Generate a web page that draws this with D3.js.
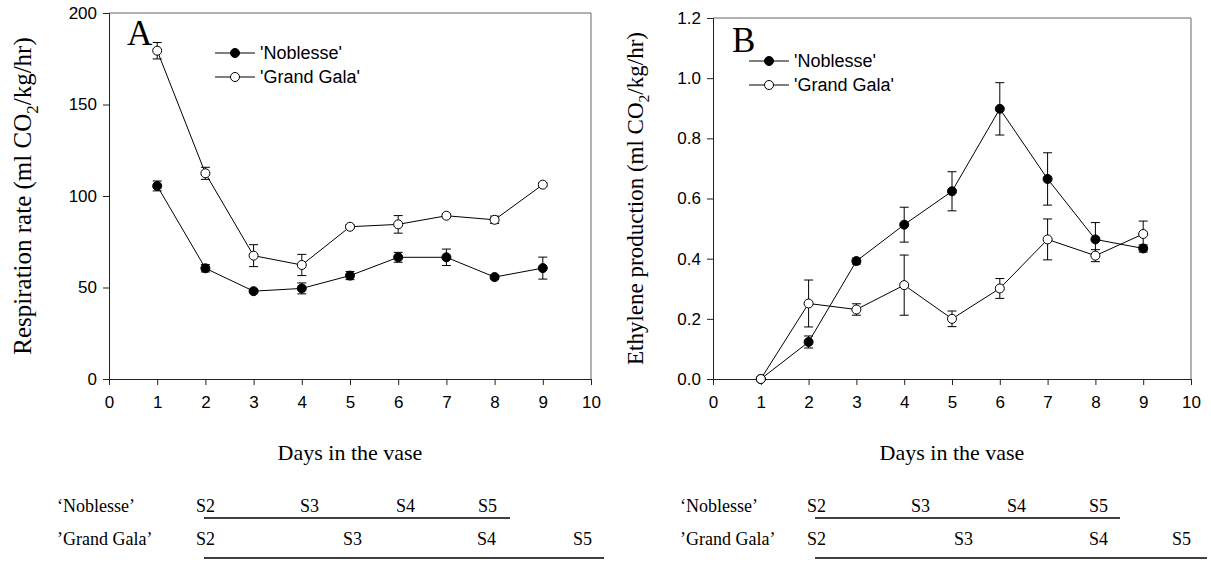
<!DOCTYPE html>
<html>
<head>
<meta charset="utf-8">
<script src="https://cdn.jsdelivr.net/npm/d3@7/dist/d3.min.js"></script>
<style>
  body { margin:0; background:#fff; }
  svg { display:block; }
  .tick text { font-family:"Liberation Sans", Arial, sans-serif; font-size:17px; fill:#000; }
  .tick line, .domain { stroke:#222; }
  .serif { font-family:"Liberation Serif", "Times New Roman", serif; fill:#000; }
  .sans { font-family:"Liberation Sans", Arial, sans-serif; fill:#000; }
</style>
</head>
<body>
<svg id="chart" width="1211" height="562"></svg>
<script>
// data
const days = [1,2,3,4,5,6,7,8,9]
const xTicks = [0,1,2,3,4,5,6,7,8,9,10]
const cultivars = ["'Noblesse'","'Grand Gala'"]

const respNoblesse = [105.5,60.5,48,49.5,56.5,66.5,66.5,55.7,60.6]
const respNoblesseErr = [2.7,2,1,3,2.2,2.7,4.5,1,6]
const respGrandGala = [179.4,112.4,67.4,62.3,83.2,84.5,89.2,87,106.2]
const respGrandGalaErr = [4.5,3.3,6,5.8,1,4.8,1,2,1]
const respTicks = [0,50,100,150,200]

const ethNoblesse = [0,0.123,0.392,0.513,0.624,0.898,0.665,0.464,0.434]
const ethNoblesseErr = [0,0.02,0.01,0.058,0.065,0.087,0.087,0.056,0.012]
const ethGrandGala = [0,0.251,0.231,0.312,0.2,0.301,0.464,0.41,0.482]
const ethGrandGalaErr = [0,0.078,0.019,0.1,0.026,0.033,0.068,0.02,0.043]
const ethTicks = [0,0.2,0.4,0.6,0.8,1.0,1.2]

const stages = ['S2','S3','S4','S5']
const stageRowLabels = ["\u2018Noblesse\u2019","\u2019Grand Gala\u2019"]

const svg = d3.select('#chart')

function panel(o) {
  const x = d3.scaleLinear().domain([0,10]).range([o.left,o.right])
  const y = d3.scaleLinear().domain(o.yDomain).range([379,o.top])
  const g = svg.append('g')

  // frame (top/right)
  g.append('path').attr('fill','none').attr('stroke','#666')
    .attr('d',`M${o.left},${o.top}H${o.right}V379`)

  g.append('g').attr('transform','translate(0,379)')
    .call(d3.axisBottom(x).tickValues(xTicks).tickSize(6).tickPadding(11).tickFormat(d3.format('d')))
  g.append('g').attr('transform',`translate(${o.left},0)`)
    .call(d3.axisLeft(y).tickValues(o.yTicks).tickSize(6).tickPadding(6).tickFormat(o.fmt))

  const line = d3.line().x((d,i)=>x(days[i])).y(d=>y(d))
  o.series.forEach(s=>{
    g.append('path').datum(s.v).attr('fill','none').attr('stroke','#000').attr('stroke-width',1).attr('d',line)
    const eb = g.append('g').attr('stroke','#000').attr('stroke-width',1)
    s.v.forEach((v,i)=>{
      if (!s.e[i]) return
      const cx = x(days[i]), y1 = y(v+s.e[i]), y2 = y(v-s.e[i])
      eb.append('path').attr('fill','none')
        .attr('d',`M${cx},${y1}V${y2}M${cx-4.5},${y1}H${cx+4.5}M${cx-4.5},${y2}H${cx+4.5}`)
    })
  })
  o.series.forEach(s=>{
    g.selectAll(null).data(s.v).join('circle')
      .attr('cx',(d,i)=>x(days[i])).attr('cy',d=>y(d)).attr('r',4.5)
      .attr('fill',s.fill).attr('stroke','#000').attr('stroke-width',1)
  })

  // legend
  o.series.forEach((s,i)=>{
    const ly = o.legY + i*24
    g.append('line').attr('x1',o.legX).attr('x2',o.legX+40).attr('y1',ly).attr('y2',ly)
      .attr('stroke','#000').attr('stroke-width',1)
    g.append('circle').attr('cx',o.legX+20).attr('cy',ly).attr('r',4.5)
      .attr('fill',s.fill).attr('stroke','#000')
    g.append('text').attr('class','sans').attr('x',o.legX+45).attr('y',ly+6)
      .attr('font-size',18).text(cultivars[i])
  })

  g.append('text').attr('class','serif').attr('x',o.letterX).attr('y',o.letterY)
    .attr('font-size',35).text(o.letter)

  const fs = o.yTitleSize
  const yt = g.append('text').attr('class','serif').attr('font-size',fs)
    .attr('text-anchor','middle')
    .attr('transform',`translate(${o.yTitleX},${(o.top+379)/2}) rotate(-90)`)
  yt.append('tspan').text(o.yTitle+' (ml CO')
  yt.append('tspan').attr('font-size',fs*0.68).attr('dy',fs*0.27).text('2')
  yt.append('tspan').attr('dy',-fs*0.27).text('/kg/hr)')

  g.append('text').attr('class','serif').attr('font-size',22).attr('text-anchor','middle')
    .attr('x',(o.left+o.right)/2).attr('y',460).text('Days in the vase')

  // developmental stage strip
  o.strip.forEach((row,r)=>{
    const by = [512,545][r]
    g.append('text').attr('class','serif').attr('font-size',18).attr('x',o.rowLabelX).attr('y',by)
      .text(stageRowLabels[r])
    stages.forEach((st,k)=>{
      g.append('text').attr('class','serif').attr('font-size',18).attr('x',row.pos[k]).attr('y',by).text(st)
    })
    g.append('line').attr('x1',row.line[0]).attr('x2',row.line[1]).attr('y1',[518,558][r]).attr('y2',[518,558][r])
      .attr('stroke','#000').attr('stroke-width',1.6)
  })
}

panel({
  left:109,right:591,top:13,yDomain:[0,200],yTicks:respTicks,fmt:d3.format('d'),
  series:[{v:respNoblesse,e:respNoblesseErr,fill:'#000'},{v:respGrandGala,e:respGrandGalaErr,fill:'#fff'}],
  legX:215,legY:53,letter:'A',letterX:127,letterY:45,
  yTitle:'Respiration rate',yTitleX:31,yTitleSize:25,rowLabelX:57,
  strip:[{pos:[196,300,396,478],line:[204,510]},{pos:[196,343,477,573],line:[204,604]}]
})
panel({
  left:713,right:1191,top:18,yDomain:[0,1.2],yTicks:ethTicks,fmt:d3.format('.1f'),
  series:[{v:ethNoblesse,e:ethNoblesseErr,fill:'#000'},{v:ethGrandGala,e:ethGrandGalaErr,fill:'#fff'}],
  legX:749,legY:61,letter:'B',letterX:732,letterY:52,
  yTitle:'Ethylene production',yTitleX:643,yTitleSize:23,rowLabelX:680,
  strip:[{pos:[807,911,1007,1089],line:[815,1120]},{pos:[807,954,1089,1172],line:[815,1207]}]
})
</script>
</body>
</html>
